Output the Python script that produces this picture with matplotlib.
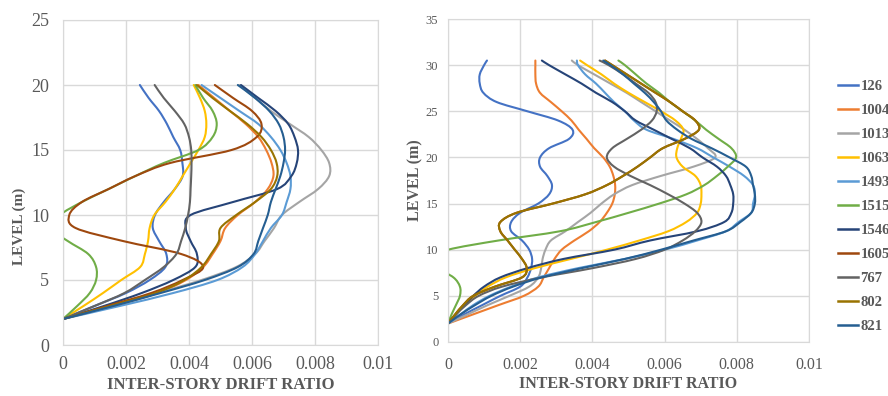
import matplotlib.pyplot as plt
import numpy as np
from matplotlib.path import Path
from matplotlib.patches import PathPatch
from matplotlib.lines import Line2D

plt.rcParams['font.family'] = ['Liberation Serif', 'DejaVu Serif']

names = ['126', '1004', '1013', '1063', '1493', '1515', '1546', '1605', '767', '802', '821']
colors = ['#4472C4', '#ED7D31', '#A5A5A5', '#FFC000', '#5B9BD5', '#70AD47',
          '#264478', '#9E480E', '#636363', '#997300', '#255E91']

# left building: levels (m) and drift ratios (x 0.001)
left_levels = [2, 3, 4, 5, 6, 7, 8, 9, 10, 11, 12, 13, 14, 15, 16, 17, 18, 19, 20]
left_126 = [0, 1.0, 2.0, 2.75, 3.25, 3.28, 3.05, 2.85, 2.92, 3.2, 3.55, 3.8, 3.79, 3.72, 3.5, 3.3, 3.05, 2.72, 2.44]
left_1004 = [0, 1.6, 3.0, 3.9, 4.45, 4.75, 5.0, 5.15, 5.55, 6.1, 6.5, 6.68, 6.62, 6.45, 6.2, 5.8, 5.3, 4.8, 4.3]
left_1013 = [0, 1.5, 3.0, 4.4, 5.5, 6.1, 6.4, 6.7, 6.95, 7.5, 8.1, 8.45, 8.45, 8.2, 7.8, 7.2, 6.6, 6.1, 5.6]
left_1063 = [0, 0.65, 1.27, 1.85, 2.45, 2.6, 2.7, 2.75, 2.9, 3.25, 3.55, 3.8, 4.05, 4.3, 4.5, 4.55, 4.5, 4.35, 4.15]
left_1493 = [0, 1.8, 3.5, 4.9, 5.7, 6.1, 6.35, 6.6, 6.95, 7.1, 7.22, 7.22, 7.1, 6.9, 6.6, 6.2, 5.6, 5.0, 4.4]
left_1515 = [0, 0.45, 0.85, 1.05, 1.05, 0.8, 0.15, -0.4, -0.1, 0.6, 1.45, 2.3, 3.2, 4.3, 4.75, 4.88, 4.75, 4.45, 4.2]
left_1546 = [0, 1.3, 2.5, 3.5, 4.2, 4.25, 4.05, 3.9, 4.05, 5.4, 6.8, 7.25, 7.42, 7.46, 7.35, 7.15, 6.75, 6.2, 5.65]
left_1605 = [0, 1.4, 2.8, 3.8, 4.45, 3.75, 1.9, 0.4, 0.2, 0.6, 1.45, 2.3, 3.4, 5.35, 6.15, 6.3, 6.0, 5.4, 4.82]
left_767 = [0, 1.0, 1.95, 2.6, 3.2, 3.6, 3.75, 3.88, 3.97, 4.03, 4.05, 4.07, 4.08, 4.07, 4.0, 3.85, 3.55, 3.2, 2.91]
left_802 = [0, 1.5, 2.95, 3.85, 4.4, 4.7, 4.95, 5.0, 5.5, 6.1, 6.6, 6.8, 6.78, 6.6, 6.3, 5.85, 5.3, 4.75, 4.25]
left_821 = [0, 1.6, 3.1, 4.5, 5.55, 6.05, 6.2, 6.35, 6.5, 6.6, 6.75, 6.9, 7.0, 7.05, 7.0, 6.85, 6.55, 6.1, 5.55]

# right building
right_levels = [2, 3, 4, 5, 6, 7, 8, 9, 10, 11, 12, 13, 14, 15, 16, 17, 18, 19, 20,
                21, 22, 23, 24, 25, 26, 27, 28, 29, 30, 30.5]
right_126 = [0, 0.45, 0.95, 1.45, 2.0, 2.2, 2.3, 2.33, 2.25, 2.05, 1.75, 1.75, 2.0, 2.5, 2.8,
             2.88, 2.75, 2.55, 2.55, 2.8, 3.35, 3.45, 3.05, 2.2, 1.35, 0.98, 0.88, 0.88, 1.0, 1.08]
right_1004 = [0, 0.7, 1.4, 2.1, 2.5, 2.65, 2.8, 2.95, 3.15, 3.5, 3.9, 4.2, 4.4, 4.55, 4.62,
              4.63, 4.58, 4.48, 4.3, 4.05, 3.84, 3.62, 3.42, 3.15, 2.85, 2.55, 2.44, 2.42, 2.42, 2.42]
right_1013 = [0, 0.55, 1.1, 1.7, 2.25, 2.5, 2.58, 2.62, 2.7, 2.85, 3.25, 3.6, 3.95, 4.25, 4.6,
              5.1, 5.9, 6.8, 7.4, 7.2, 6.9, 6.55, 6.15, 5.75, 5.35, 4.95, 4.5, 4.05, 3.6, 3.43]
right_1063 = [0, 0.22, 0.45, 0.75, 1.1, 1.6, 2.4, 3.4, 4.4, 5.3, 6.1, 6.6, 6.9, 7.0, 7.02,
              7.0, 6.85, 6.5, 6.33, 6.35, 6.45, 6.52, 6.3, 5.9, 5.45, 5.0, 4.6, 4.25, 3.85, 3.66]
right_1493 = [0, 0.35, 0.7, 1.15, 1.75, 2.5, 3.6, 4.9, 6.0, 6.9, 7.7, 8.05, 8.4, 8.45, 8.5,
              8.45, 8.2, 7.8, 7.35, 6.9, 6.25, 5.5, 5.15, 4.9, 4.6, 4.35, 4.1, 3.8, 3.6, 3.57]
right_1515 = [0, 0.1, 0.22, 0.33, 0.33, 0.15, -0.3, -0.6, 0, 1.4, 3.1, 4.1, 5.0, 5.85, 6.6,
              7.1, 7.45, 7.75, 7.98, 7.85, 7.5, 7.15, 6.85, 6.5, 6.15, 5.85, 5.5, 5.2, 4.9, 4.72]
right_1546 = [0, 0.22, 0.45, 0.7, 1.0, 1.45, 2.2, 3.2, 4.6, 5.6, 6.9, 7.65, 7.85, 7.9, 7.9,
              7.82, 7.7, 7.45, 7.05, 6.7, 6.2, 5.7, 5.2, 4.9, 4.55, 4.1, 3.7, 3.25, 2.8, 2.6]
right_1605 = [0, 0.2, 0.42, 0.7, 1.3, 2.05, 2.18, 2.05, 1.85, 1.65, 1.45, 1.45, 1.9, 2.9, 3.8,
              4.4, 4.85, 5.25, 5.6, 5.95, 6.55, 6.95, 6.85, 6.5, 6.15, 5.75, 5.35, 4.95, 4.55, 4.35]
right_767 = [0, 0.23, 0.5, 0.85, 1.5, 2.6, 4.0, 5.2, 6.0, 6.5, 6.85, 7.02, 6.9, 6.55, 6.1,
             5.6, 5.05, 4.6, 4.4, 4.55, 4.95, 5.35, 5.65, 5.78, 5.75, 5.55, 5.2, 4.85, 4.45, 4.2]
right_802 = [0, 0.2, 0.42, 0.7, 1.3, 2.05, 2.18, 2.05, 1.85, 1.65, 1.45, 1.45, 1.9, 2.9, 3.8,
             4.4, 4.85, 5.25, 5.6, 5.95, 6.55, 6.95, 6.85, 6.5, 6.15, 5.75, 5.35, 4.95, 4.55, 4.35]
right_821 = [0, 0.35, 0.75, 1.2, 1.8, 2.6, 3.7, 4.9, 5.9, 6.8, 7.7, 8.1, 8.4, 8.5, 8.5,
             8.45, 8.4, 8.25, 7.8, 7.3, 6.75, 6.35, 6.05, 5.9, 5.7, 5.45, 5.15, 4.85, 4.5, 4.3]

left_series = [left_126, left_1004, left_1013, left_1063, left_1493, left_1515,
               left_1546, left_1605, left_767, left_802, left_821]
right_series = [right_126, right_1004, right_1013, right_1063, right_1493, right_1515,
                right_1546, right_1605, right_767, right_802, right_821]

x_ticks = [0, 0.002, 0.004, 0.006, 0.008, 0.01]
x_tick_labels = ['0', '0.002', '0.004', '0.006', '0.008', '0.01']

W, H = 888, 396
fig = plt.figure(figsize=(W / 100, H / 100), dpi=100)


def px_axes(x0, y0, x1, y1):
    return fig.add_axes([x0 / W, 1 - y1 / H, (x1 - x0) / W, (y1 - y0) / H])


def smooth_line(ax, xs, ys, color):
    # Excel style "smoothed line": Catmull-Rom through the data points as cubic Bezier
    p = np.column_stack([xs, ys])
    ext = np.vstack([p[0], p, p[-1]])
    verts = [p[0]]
    codes = [Path.MOVETO]
    for i in range(len(p) - 1):
        p0, p1, p2, p3 = ext[i], ext[i + 1], ext[i + 2], ext[i + 3]
        verts += [p1 + (p2 - p0) / 6, p2 - (p3 - p1) / 6, p2]
        codes += [Path.CURVE4] * 3
    ax.add_patch(PathPatch(Path(verts, codes), fill=False, edgecolor=color, lw=1.5,
                           capstyle='round', joinstyle='round'))


def style(ax, ymax, xsize, ysize, xpad, ypad):
    ax.set_xlim(0, 0.01)
    ax.set_ylim(0, ymax)
    ax.set_xticks(x_ticks)
    ax.set_xticklabels(x_tick_labels)
    ax.set_yticks(np.arange(0, ymax + 1, 5))
    ax.grid(True, color='#D9D9D9', lw=1)
    ax.set_axisbelow(True)
    for s in ax.spines.values():
        s.set_color('#D9D9D9')
    ax.tick_params(length=0, colors='#595959')
    ax.tick_params(axis='x', labelsize=xsize, pad=xpad)
    ax.tick_params(axis='y', labelsize=ysize, pad=ypad)


ax1 = px_axes(63, 20, 378, 345)
ax2 = px_axes(448, 19, 809, 342)

for vals, c in zip(left_series, colors):
    smooth_line(ax1, np.array(vals) * 0.001, left_levels, c)
for vals, c in zip(right_series, colors):
    smooth_line(ax2, np.array(vals) * 0.001, right_levels, c)

style(ax1, 25, 13, 13, 8, 10)
style(ax2, 35, 11.5, 9, 11, 7)

lab = dict(color='#595959', fontweight='bold', ha='center', va='center')
fig.text(221 / W, 1 - 385 / H, 'INTER-STORY DRIFT RATIO', fontsize=12, **lab)
fig.text(628 / W, 1 - 384 / H, 'INTER-STORY DRIFT RATIO', fontsize=11.5, **lab)
fig.text(19 / W, 1 - 226 / H, 'LEVEL (m)', fontsize=11, rotation=90, **lab)
fig.text(415 / W, 1 - 180 / H, 'LEVEL (m)', fontsize=11.5, rotation=90, **lab)

handles = [Line2D([], [], color=c, lw=1.8) for c in colors]
leg = fig.legend(handles, names, loc='upper left', bbox_to_anchor=(838 / W, 1 - 80 / H),
                 frameon=False, handlelength=1.4, handletextpad=0.15,
                 labelspacing=0.74, borderpad=0, borderaxespad=0,
                 prop={'weight': 'bold', 'size': 10.5})
for t in leg.get_texts():
    t.set_color('#595959')

fig.savefig('out.png', dpi=100)
